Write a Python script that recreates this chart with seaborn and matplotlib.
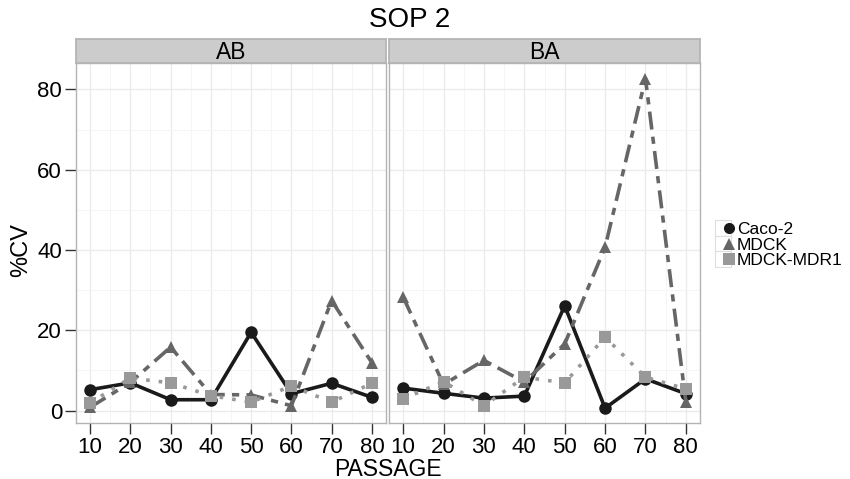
import matplotlib
matplotlib.use('Agg')
import matplotlib.pyplot as plt
from matplotlib.legend_handler import HandlerTuple
import numpy as np
import pandas as pd
import seaborn as sns

# values
passage = [10, 20, 30, 40, 50, 60, 70, 80]
cell_lines = ['Caco-2', 'MDCK', 'MDCK-MDR1']
directions = ['AB', 'BA']

ab_caco2 = [5.2, 6.9, 2.7, 2.7, 19.5, 4.2, 6.8, 3.3]
ab_mdck = [0.8, 7.0, 15.8, 4.0, 3.9, 1.2, 27.4, 11.9]
ab_mdr1 = [1.9, 8.1, 6.9, 3.7, 2.1, 6.1, 2.1, 6.8]

ba_caco2 = [5.6, 4.3, 3.1, 3.6, 26.1, 0.6, 7.9, 4.2]
ba_mdck = [28.3, 6.5, 12.5, 7.1, 16.6, 40.7, 82.7, 2.1]
ba_mdr1 = [2.9, 7.2, 1.2, 8.3, 6.9, 18.3, 8.3, 5.4]

series = {
    ('AB', 'Caco-2'): ab_caco2, ('AB', 'MDCK'): ab_mdck, ('AB', 'MDCK-MDR1'): ab_mdr1,
    ('BA', 'Caco-2'): ba_caco2, ('BA', 'MDCK'): ba_mdck, ('BA', 'MDCK-MDR1'): ba_mdr1,
}
rows = []
for (d, c), vals in series.items():
    for p, v in zip(passage, vals):
        rows.append({'direction': d, 'cell': c, 'PASSAGE': p, 'CV': v})
df = pd.DataFrame(rows)

sns.set_theme(style='white')
plt.rcParams['font.family'] = ['Liberation Sans', 'DejaVu Sans']
plt.rcParams['text.color'] = 'black'

palette = {'Caco-2': '#1a1a1a', 'MDCK': '#666666', 'MDCK-MDR1': '#999999'}
markers = {'Caco-2': 'o', 'MDCK': '^', 'MDCK-MDR1': 's'}
dashes = {'Caco-2': '', 'MDCK': (5, 2, 2, 2), 'MDCK-MDR1': (1, 2.5)}

fig = plt.figure(figsize=(8.5, 4.79), dpi=100)
W, H = 850, 479
panels = [(76, 386), (389, 700)]
top, bottom = 63, 423
strip_top = 39

axes = []
for (x0, x1), d in zip(panels, directions):
    ax = fig.add_axes([x0 / W, 1 - bottom / H, (x1 - x0) / W, (bottom - top) / H])
    sns.lineplot(data=df[df['direction'] == d], x='PASSAGE', y='CV', hue='cell', style='cell',
                 palette=palette, markers=markers, dashes=dashes, markersize=9,
                 markeredgewidth=0, linewidth=2.6, ax=ax, legend=False)
    ax.set_xlim(6.5, 83.5)
    ax.set_ylim(-3.1, 86.6)
    ax.set_xticks(passage)
    ax.set_xticks([15, 25, 35, 45, 55, 65, 75], minor=True)
    ax.set_yticks([0, 20, 40, 60, 80])
    ax.set_yticks([10, 30, 50, 70], minor=True)
    ax.grid(True, which='major', color='#ebebeb', linewidth=1.0)
    ax.grid(True, which='minor', color='#f5f5f5', linewidth=0.7)
    ax.set_axisbelow(True)
    for s in ax.spines.values():
        s.set_color('#b3b3b3')
        s.set_linewidth(1.0)
    ax.tick_params(axis='both', which='major', direction='out', length=8, width=1,
                   color='#333333', labelsize=16, labelcolor='black', pad=2,
                   bottom=True, left=True)
    ax.tick_params(which='minor', length=0)
    ax.set_xlabel('')
    ax.set_ylabel('')
    axes.append(ax)

    # facet strip
    sax = fig.add_axes([x0 / W, 1 - top / H, (x1 - x0) / W, (top - strip_top) / H])
    sax.set_facecolor('#cccccc')
    sax.set_xticks([])
    sax.set_yticks([])
    for s in sax.spines.values():
        s.set_color('#b3b3b3')
    sax.text(0.5, 0.42, d, ha='center', va='center', fontsize=16.5, transform=sax.transAxes)

axes[1].tick_params(axis='y', labelleft=False, left=False)

fig.text(410 / W, 1 - 20 / H, 'SOP 2', ha='center', va='center', fontsize=20)
fig.text(388 / W, 1 - 469 / H, 'PASSAGE', ha='center', va='center', fontsize=16.5)
fig.text(21 / W, 1 - 250 / H, '%CV', ha='center', va='center', fontsize=17, rotation=90)

# legend keys: grey-outlined key box with the marker inside
handles = []
for c in cell_lines:
    box = plt.Line2D([], [], marker='s', linestyle='', markersize=12,
                     markerfacecolor='white', markeredgecolor='#dddddd', markeredgewidth=0.8)
    mk = plt.Line2D([], [], color=palette[c], marker=markers[c], linestyle='',
                    markersize=8, markeredgewidth=0)
    handles.append((box, mk))
fig.legend(handles, cell_lines, loc='center left', bbox_to_anchor=(711 / W, 1 - 245 / H),
           frameon=False, fontsize=12.5, handlelength=0.75, handletextpad=0.25,
           labelspacing=0.0, borderpad=0,
           handler_map={tuple: HandlerTuple(ndivide=None, pad=0)})

fig.savefig('out.png', dpi=100)
